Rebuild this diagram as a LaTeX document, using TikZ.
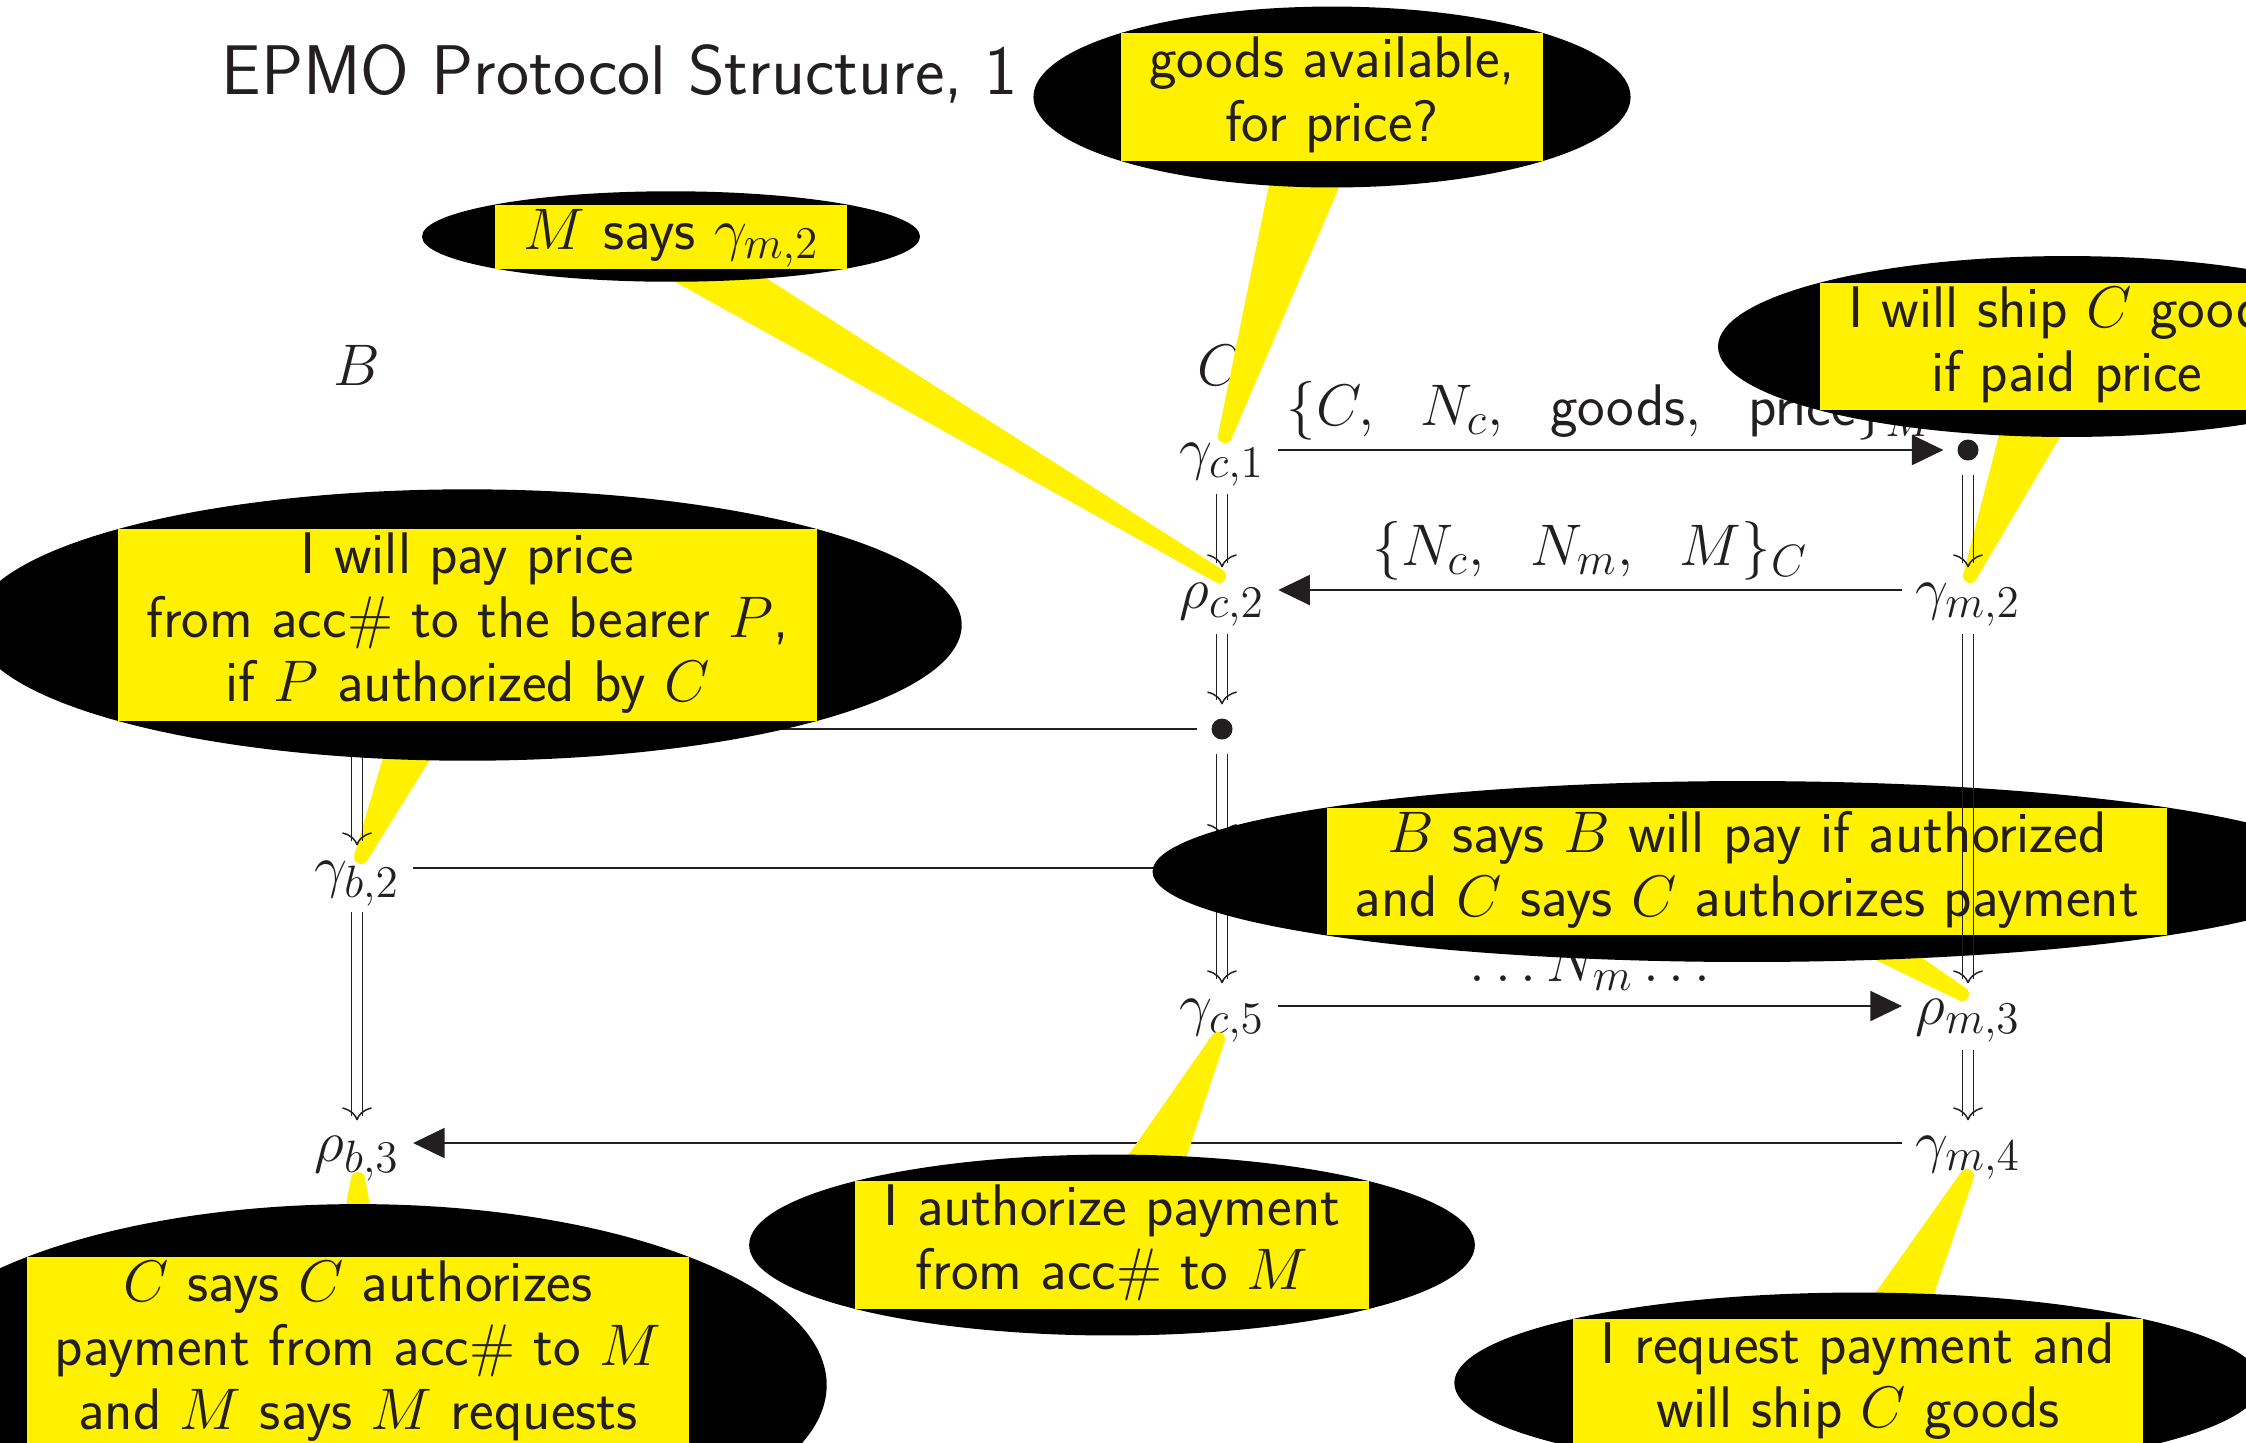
\documentclass[tikz,border=0pt]{standalone}
\usepackage{fix-cm}
\usepackage{xcolor}
\definecolor{inkDark}{HTML}{231F20}
\definecolor{calloutYellow}{HTML}{FFF100}
\usepackage{tikz}
\usetikzlibrary{shapes,arrows,positioning,calc,arrows.meta,shapes.geometric,decorations.markings}
\DeclareMathSizes{16.7}{16.7}{12.9}{9.5}
\newcommand{\yellowPanel}[1]{{\setlength{\fboxsep}{0pt}\colorbox{calloutYellow}{\setlength{\tabcolsep}{8pt}\begin{tabular}{c}#1\end{tabular}}}}
\tikzset{%
  slideTitle/.style={%
    font=\fontsize{20}{24}\selectfont\sffamily,
    inner sep=0pt
  },
  stateLabel/.style={%
    inner xsep=3.7pt,
    inner ysep=0pt,
    text height=11.4pt,
    text depth=1.1pt
  },
  dotNode/.style={%
    circle,
    fill=inkDark,
    inner sep=0pt,
    minimum size=0.21cm,
    outer sep=4pt
  },
  msgArrow/.style={%
    -{Triangle[length=9pt,width=8.5pt]},
    line width=0.77pt,
    draw=inkDark
  },
  msgLabel/.style={%
    above,
    inner sep=2.6pt,
    text depth=3.9pt
  },
  dblArrow/.style={%
    preaction={draw=inkDark, line width=0.42pt, shorten >=1.2pt, transform canvas={xshift=1.55pt}},
    preaction={draw=inkDark, line width=0.42pt, shorten >=1.2pt, transform canvas={xshift=-1.55pt}},
    decoration={markings, mark=at position 1 with {\arrow{Computer Modern Rightarrow[length=3.7pt,width=8.5pt,line width=0.42pt,color=inkDark]}}},
    postaction=decorate
  },
  pointer/.style={%
    fill=calloutYellow,
    draw=calloutYellow,
    line width=4pt,
    line join=round
  },
  calloutNode/.style={%
    ellipse,
    fill=black,
    inner sep=0pt
  }
}

\begin{document}
\begin{tikzpicture}[font=\fontsize{16.7}{18.2}\selectfont\sffamily, color=inkDark]
\useasboundingbox (0,0) rectangle (22.46,-14.42);

\node[slideTitle, anchor=base west] (title) at (2.21,-0.94) {EPMO Protocol Structure, 1};

% principals
\node[anchor=base, inner sep=0pt] (hdB) at (3.57,-3.85) {$B$};
\node[anchor=base, inner sep=0pt] (hdC) at (12.20,-3.85) {$C$};

% B column
\coordinate (b3) at (3.57,-7.29);
\node[stateLabel] (gb2) at (3.57,-8.68) {$\gamma_{b,2}$};
\node[stateLabel] (rb3) at (3.57,-11.43) {$\rho_{b,3}$};

% C column
\node[stateLabel] (gc1) at (12.22,-4.50) {$\gamma_{c,1}$};
\node[stateLabel] (rc2) at (12.22,-5.90) {$\rho_{c,2}$};
\node[dotNode] (cDot) at (12.22,-7.29) {};
\coordinate (c4) at (12.22,-8.68);
\node[stateLabel] (gc5) at (12.22,-10.06) {$\gamma_{c,5}$};

% M column
\node[dotNode] (mDot) at (19.68,-4.50) {};
\node[stateLabel] (gm2) at (19.68,-5.90) {$\gamma_{m,2}$};
\node[stateLabel] (rm3) at (19.68,-10.06) {$\rho_{m,3}$};
\node[stateLabel] (gm4) at (19.68,-11.43) {$\gamma_{m,4}$};

% messages
\draw[msgArrow] (gc1) -- node[msgLabel] {$\{C,~~N_c,~~\mbox{goods},~~\mbox{price}\}_M$} (mDot);
\draw[msgArrow] (gm2) -- node[msgLabel] {$\{N_c,~~N_m,~~M\}_C$} (rc2);
\draw[msgArrow, shorten >=14pt] (cDot) -- (b3);
\draw[msgArrow, shorten >=7pt] (gb2) -- (c4);
\draw[msgArrow] (gc5) -- node[msgLabel] {$\ldots N_m\ldots$} (rm3);
\draw[msgArrow] (gm4) -- (rb3);

% callout places
\coordinate (cGoodsPos) at (13.32,-0.97);
\coordinate (cSaysPos) at (6.71,-2.365);
\coordinate (cShipPos) at (20.67,-3.465);
\coordinate (cPayPos) at (4.675,-6.25);
\coordinate (cBothPos) at (17.47,-8.715);
\coordinate (cAuthPos) at (11.12,-12.45);
\coordinate (cReqPos) at (3.58,-13.85);
\coordinate (cShipTwoPos) at (18.58,-13.83);

% pointers
\filldraw[pointer] ($(cGoodsPos)+(-0.38,0)$) -- ($(gc1.center)+(0.03,0.14)$) -- ($(cGoodsPos)+(0.38,0)$) -- cycle;
\filldraw[pointer] ($(cSaysPos)+(-0.63,0)$) -- ($(rc2.center)+(-0.03,0.14)$) -- ($(cSaysPos)+(0.17,0)$) -- cycle;
\filldraw[pointer] ($(cShipPos)+(-0.38,0)$) -- ($(gm2.center)+(0.02,0.14)$) -- ($(cShipPos)+(0.38,0)$) -- cycle;
\filldraw[pointer] ($(cPayPos)+(-0.38,0)$) -- ($(gb2.center)+(0.04,0.11)$) -- ($(cPayPos)+(0.38,0)$) -- cycle;
\filldraw[pointer] ($(cBothPos)+(-0.38,0)$) -- ($(rm3.center)+(-0.06,0.12)$) -- ($(cBothPos)+(0.38,0)$) -- cycle;
\filldraw[pointer] ($(cAuthPos)+(-0.38,0)$) -- ($(gc5.center)+(-0.04,-0.33)$) -- ($(cAuthPos)+(0.38,0)$) -- cycle;
\filldraw[pointer] ($(cReqPos)+(-0.38,0)$) -- ($(rb3.center)+(0.01,-0.36)$) -- ($(cReqPos)+(0.38,0)$) -- cycle;
\filldraw[pointer] ($(cShipTwoPos)+(-0.38,0)$) -- ($(gm4.center)+(-0.01,-0.33)$) -- ($(cShipTwoPos)+(0.38,0)$) -- cycle;

% steps inside each principal
\path[dblArrow] ([yshift=-6pt]gc1.south) -- (rc2.north);
\path[dblArrow] ([yshift=-6pt]rc2.south) -- (cDot.north);
\path[dblArrow] (cDot.south) -- ([yshift=8.8pt]c4);
\path[dblArrow] ([yshift=-8.8pt]c4) -- (gc5.north);
\path[dblArrow] (mDot.south) -- (gm2.north);
\path[dblArrow] ([yshift=-6pt]rm3.south) -- (gm4.north);
\path[dblArrow] ([yshift=-6pt]b3) -- (gb2.north);
\path[dblArrow] ([yshift=-6pt]gb2.south) -- (rb3.north);

% callouts
\node[calloutNode] (cGoods) at (cGoodsPos) {\yellowPanel{goods available,\\for price?}};
\node[calloutNode] (cSays) at (cSaysPos) {\yellowPanel{$M$ says $\gamma_{m,2}$}};
\node[calloutNode] (cShip) at (cShipPos) {\yellowPanel{I will ship $C$ goods\\if paid price}};
\node[calloutNode] (cPay) at (cPayPos) {\yellowPanel{I will pay price\\from acc\# to the bearer $P$,\\if $P$ authorized by $C$}};
\node[calloutNode] (cBoth) at (cBothPos) {\yellowPanel{$B$ says $B$ will pay if authorized\\and $C$ says $C$ authorizes payment}};
\node[calloutNode] (cAuth) at (cAuthPos) {\yellowPanel{I authorize payment\\from acc\# to $M$}};
\node[calloutNode] (cReq) at (cReqPos) {\yellowPanel{$C$ says $C$ authorizes\\payment from acc\# to $M$\\and $M$ says $M$ requests\\ \mbox{}}};
\node[calloutNode] (cShipTwo) at (cShipTwoPos) {\yellowPanel{I request payment and\\will ship $C$ goods}};

% long step of M, on top
\path[dblArrow] ([yshift=-6pt]gm2.south) -- (rm3.north);
\end{tikzpicture}
\end{document}
